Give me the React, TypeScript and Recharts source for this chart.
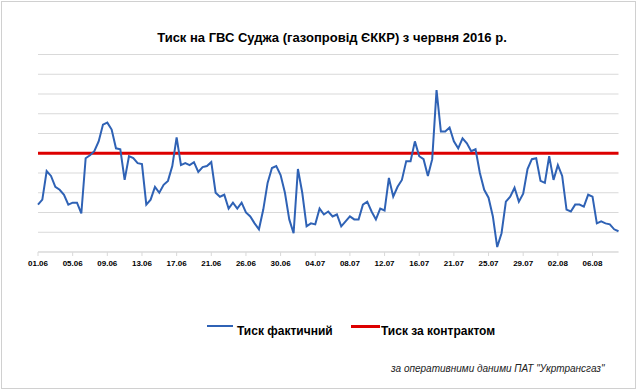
import { LineChart, Line, XAxis, YAxis, CartesianGrid, ReferenceLine } from "recharts";

// pressure readings, two per day
const ACTUAL_PRESSURE = [
  47.4, 47.65, 49.1, 48.85, 48.3, 48.15, 47.9, 47.4, 47.5, 47.5,
  46.95, 49.75, 49.9, 50.1, 50.6, 51.45, 51.55, 51.2, 50.25, 50.2,
  48.65, 49.85, 49.75, 49.5, 49.45, 47.4, 47.65, 48.3, 48.0, 48.4,
  48.6, 49.35, 50.8, 49.4, 49.5, 49.4, 49.55, 49.05, 49.3, 49.35,
  49.55, 48.0, 47.8, 47.9, 47.2, 47.5, 47.2, 47.5, 47.0, 46.8,
  46.45, 46.15, 47.15, 48.5, 49.25, 49.35, 48.9, 48.0, 46.65, 45.95,
  49.2, 48.0, 46.3, 46.45, 46.4, 47.2, 46.9, 47.05, 46.8, 46.9,
  46.3, 46.55, 46.8, 46.65, 46.65, 47.4, 47.55, 47.05, 46.65, 47.2,
  47.1, 48.75, 47.8, 48.3, 48.65, 49.6, 49.6, 50.6, 49.85, 49.7,
  48.85, 49.7, 53.2, 51.1, 51.1, 51.3, 50.6, 50.25, 50.75, 50.5,
  50.1, 50.2, 49.0, 48.15, 47.75, 46.8, 45.25, 45.95, 47.55, 47.8,
  48.25, 47.55, 47.95, 49.2, 49.7, 49.75, 48.6, 48.5, 49.85, 48.65,
  49.4, 48.85, 47.15, 47.05, 47.4, 47.4, 47.3, 47.9, 47.8, 46.45,
  46.55, 46.45, 46.4, 46.15, 46.05,
];

const CONTRACT_PRESSURE = 50;

const TICK_LABELS = [
  "01.06", "05.06", "09.06", "13.06", "17.06", "21.06", "26.06", "30.06", "04.07",
  "08.07", "12.07", "16.07", "21.07", "25.07", "29.07", "02.08", "06.08",
];
const POINTS_PER_LABEL = 8;

const Y_TICKS = [45, 46, 47, 48, 49, 50, 51, 52, 53, 54, 55];

const BLUE = "#2f62b5";
const RED = "#dd0000";
const GRID = "#d9d9d9";

const data = ACTUAL_PRESSURE.map((v, i) => ({ i, actual: v }));
const xTicks = TICK_LABELS.map((_, k) => k * POINTS_PER_LABEL);

export default function App() {
  return (
    <div
      style={{
        position: "absolute",
        left: 0,
        top: 0,
        width: 638,
        height: 392,
        background: "#fff",
        fontFamily: "'Liberation Sans', Arial, sans-serif",
      }}
    >
      <div
        style={{
          position: "absolute",
          left: 1,
          top: 1,
          width: 633,
          height: 386,
          border: "1px solid #d0d0d0",
        }}
      />
      <div
        style={{
          position: "absolute",
          left: 0,
          top: 30,
          width: 664,
          textAlign: "center",
          fontSize: 13,
          fontWeight: "bold",
          color: "#000",
        }}
      >
        Тиск на ГВС Суджа (газопровід ЄККР) з червня 2016 р.
      </div>

      <div style={{ position: "absolute", left: 0, top: 0 }}>
        <LineChart
          width={638}
          height={300}
          data={data}
          margin={{ top: 54.5, right: 19.5, bottom: 28, left: 38 }}
        >
          <CartesianGrid vertical={false} stroke={GRID} strokeWidth={1} />
          <XAxis
            dataKey="i"
            type="number"
            domain={[0, ACTUAL_PRESSURE.length - 1]}
            ticks={xTicks}
            interval={0}
            height={20}
            tickFormatter={(v: number) => TICK_LABELS[Math.round(v / POINTS_PER_LABEL)]}
            stroke={GRID}
            tickSize={4}
            dy={2}
            tick={{ fontSize: 8, fontWeight: "bold", fill: "#000", fontFamily: "'Liberation Sans Narrow', 'Liberation Sans', Arial" }}
          />
          <YAxis
            type="number"
            domain={[45, 55]}
            ticks={Y_TICKS}
            interval={0}
            width={0}
            tick={{ fill: "transparent", fontSize: 1 }}
            axisLine={false}
            tickLine={false}
          />
          <ReferenceLine y={CONTRACT_PRESSURE} stroke={RED} strokeWidth={3} />
          <Line
            type="linear"
            dataKey="actual"
            stroke={BLUE}
            strokeWidth={2}
            dot={false}
            isAnimationActive={false}
          />
        </LineChart>
      </div>

      {/* legend */}
      <div style={{ position: "absolute", left: 207, top: 325, width: 26, height: 2, background: BLUE }} />
      <div style={{ position: "absolute", left: 237, top: 324, fontSize: 12, fontWeight: "bold", lineHeight: "14px" }}>
        Тиск фактичний
      </div>
      <div style={{ position: "absolute", left: 351, top: 325, width: 29, height: 3, background: RED }} />
      <div style={{ position: "absolute", left: 381, top: 324, fontSize: 12, fontWeight: "bold", lineHeight: "14px" }}>
        Тиск за контрактом
      </div>

      <div
        style={{
          position: "absolute",
          left: 391,
          top: 363,
          fontSize: 10,
          fontStyle: "italic",
          lineHeight: "12px",
          color: "#222",
          whiteSpace: "nowrap",
        }}
      >
        за оперативними даними ПАТ "Укртрансгаз"
      </div>
    </div>
  );
}
